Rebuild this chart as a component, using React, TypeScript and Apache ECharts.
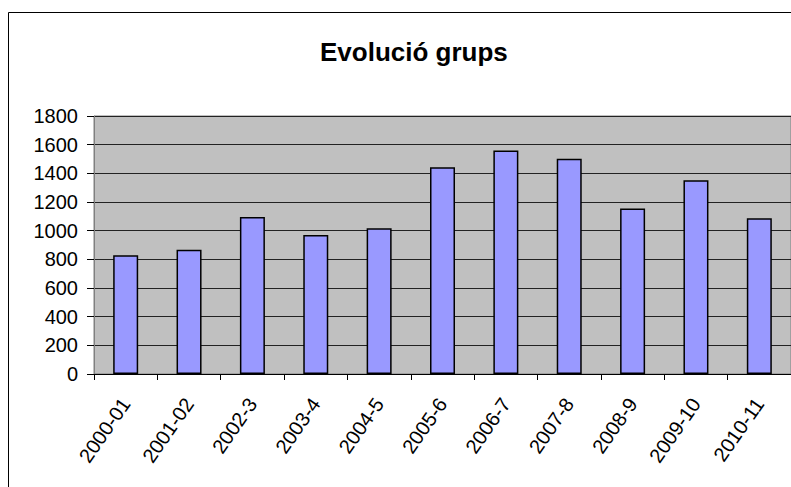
import React, { useEffect, useRef } from "react";
import * as echarts from "echarts";

const categories = ["2000-01", "2001-02", "2002-3", "2003-4", "2004-5", "2005-6", "2006-7", "2007-8", "2008-9", "2009-10", "2010-11"];
const grups = [829, 866, 1096, 969, 1017, 1443, 1559, 1501, 1154, 1352, 1087];
const titleText = "Evolució grups";

export default function App() {
  const ref = useRef<HTMLDivElement>(null);
  useEffect(() => {
    if (!ref.current) return;
    const chart = echarts.init(ref.current, null, { renderer: "svg" });
    const font = "'Liberation Sans', Arial, sans-serif";
    chart.setOption({
      animation: false,
      backgroundColor: "#fff",
      title: {
        text: titleText,
        left: 315,
        top: 34,
        textStyle: { fontFamily: font, fontSize: 26, fontWeight: "bold", color: "#000" },
      },
      graphic: [
        {
          type: "rect",
          shape: { x: 8.5, y: 12.5, width: 820, height: 500 },
          style: { fill: "none", stroke: "#000", lineWidth: 1 },
          silent: true,
          z: 100,
        },
      ],
      grid: {
        left: 94,
        right: -1,
        top: 116,
        bottom: 113,
        show: true,
        backgroundColor: "#C0C0C0",
        borderColor: "#808080",
        borderWidth: 1,
      },
      xAxis: {
        type: "category",
        data: categories,
        axisLine: { show: true, lineStyle: { color: "#000", width: 1 } },
        axisTick: { show: true, length: 6, lineStyle: { color: "#000" } },
        axisLabel: {
          rotate: 55,
          margin: 26,
          interval: 0,
          fontFamily: font,
          fontSize: 20,
          color: "#000",
        },
      },
      yAxis: {
        type: "value",
        min: 0,
        max: 1800,
        interval: 200,
        axisLine: { show: true, lineStyle: { color: "#808080", width: 1 } },
        axisTick: { show: true, inside: false, length: 7, lineStyle: { color: "#000" } },
        axisLabel: {
          margin: 16,
          fontFamily: font,
          fontSize: 20,
          color: "#000",
          formatter: (v: number) => String(v),
        },
        splitLine: { show: true, lineStyle: { color: "#222", width: 1 } },
      },
      series: [
        {
          type: "bar",
          data: grups,
          barWidth: 25,
          itemStyle: { color: "#9999FF", borderColor: "#000", borderWidth: 1.5 },
        },
      ],
    });
    return () => chart.dispose();
  }, []);
  return <div ref={ref} style={{ position: "fixed", left: 0, top: 0, width: 791, height: 487 }} />;
}
